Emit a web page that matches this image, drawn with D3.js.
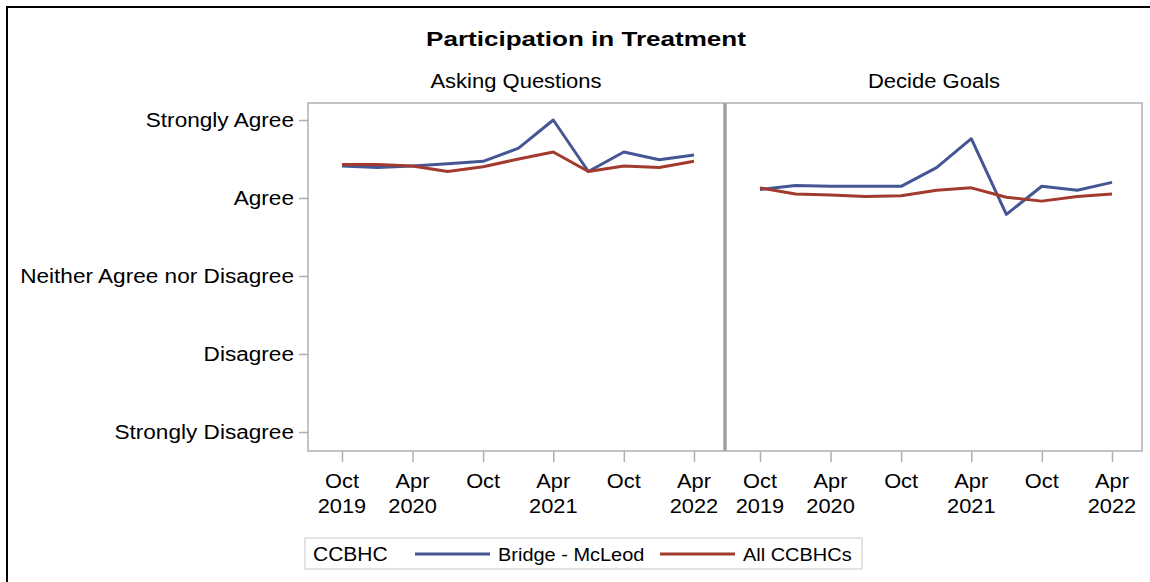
<!DOCTYPE html>
<html>
<head>
<meta charset="utf-8">
<script src="https://cdn.jsdelivr.net/npm/d3@7"></script>
<style>
  body { margin: 0; background: #fff; }
  text { font-family: "Liberation Sans", Arial, sans-serif; fill: #000; }
</style>
</head>
<body>
<script>

// data

var quarters = ['2019-10', '2020-01', '2020-04', '2020-07', '2020-10', '2021-01',
                '2021-04', '2021-07', '2021-10', '2022-01', '2022-04'];

var panelNames = ['Asking Questions', 'Decide Goals'];

// 1 = Strongly Disagree ... 5 = Strongly Agree
var bridgeAsking = [4.41, 4.39, 4.41, 4.44, 4.47, 4.64, 5.00, 4.34, 4.59, 4.49, 4.55];
var allAsking    = [4.43, 4.43, 4.41, 4.34, 4.40, 4.50, 4.59, 4.34, 4.41, 4.39, 4.47];
var bridgeGoals  = [4.11, 4.16, 4.15, 4.15, 4.15, 4.39, 4.76, 3.79, 4.15, 4.10, 4.20];
var allGoals     = [4.13, 4.05, 4.04, 4.02, 4.03, 4.10, 4.13, 4.01, 3.96, 4.02, 4.05];

var yLabels = ['Strongly Disagree', 'Disagree', 'Neither Agree nor Disagree', 'Agree', 'Strongly Agree'];
var yValues = [1, 2, 3, 4, 5];

var xTicks = ['2019-10', '2020-04', '2020-10', '2021-04', '2021-10', '2022-04'];
var xTickLabels = [['Oct', '2019'], ['Apr', '2020'], ['Oct', ''], ['Apr', '2021'], ['Oct', ''], ['Apr', '2022']];

var seriesNames = ['Bridge - McLeod', 'All CCBHCs'];
var seriesColors = ['#445694', '#a23a2e'];


// helpers

// the picture's lettering is a bit wider than Arial, so widen glyphs
function stretch(sel, k) {
    sel.each(function() {
        var w = this.getComputedTextLength();
        if (w > 0) {
            d3.select(this)
                .attr('textLength', w * k)
                .attr('lengthAdjust', 'spacingAndGlyphs');
        }
    });
}


// svg

var W = 1150, H = 582;
var parseQ = d3.timeParse('%Y-%m');

var svg = d3.select('body').append('svg')
    .attr('width', W)
    .attr('height', H);

svg.append('rect')
    .attr('width', W)
    .attr('height', H)
    .style('fill', '#fff');

// outer frame (only top and left show)
svg.append('rect')
    .attr('x', 7)
    .attr('y', 7)
    .attr('width', W + 20)
    .attr('height', H + 20)
    .style('fill', 'none')
    .style('stroke', '#000')
    .style('stroke-width', 2);

var panelTop = 103, panelBottom = 451, panelW = 416;
var panelX = [308, 726];

var x = d3.scaleTime()
    .domain([parseQ(quarters[0]), parseQ(quarters[quarters.length - 1])])
    .range([34, 386]);

var y = d3.scaleLinear()
    .domain([1, 5])
    .range([432, 120]);

var line = d3.line()
    .x(function(d) { return x(parseQ(d.q)); })
    .y(function(d) { return y(d.v); });

var panelData = [
    [bridgeAsking, allAsking],
    [bridgeGoals, allGoals]
];

// title
svg.append('text')
    .attr('x', 586)
    .attr('y', 46)
    .attr('text-anchor', 'middle')
    .style('font-size', '21px')
    .style('font-weight', 'bold')
    .text('Participation in Treatment')
    .call(stretch, 1.24);

// y axis
var yAxis = svg.append('g')
    .attr('transform', 'translate(' + panelX[0] + ',0)')
    .call(d3.axisLeft(y)
        .tickValues(yValues)
        .tickFormat(function(d, i) { return yLabels[i]; })
        .tickSize(9)
        .tickPadding(5));
yAxis.select('.domain').remove();
yAxis.selectAll('line').style('stroke', '#a9b1b5').style('stroke-width', 1.5);
yAxis.selectAll('text')
    .style('font-size', '20px')
    .style('font-family', '"Liberation Sans", Arial, sans-serif')
    .attr('fill', '#000')
    .call(stretch, 1.13);

panelNames.forEach(function(name, p) {
    var g = svg.append('g')
        .attr('transform', 'translate(' + panelX[p] + ',0)');

    // header
    g.append('text')
        .attr('x', panelW / 2)
        .attr('y', 88)
        .attr('text-anchor', 'middle')
        .style('font-size', '20px')
        .text(name)
        .call(stretch, 1.1);

    // x axis
    var xa = g.append('g')
        .attr('transform', 'translate(0,' + panelBottom + ')')
        .call(d3.axisBottom(x)
            .tickValues(xTicks.map(parseQ))
            .tickFormat('')
            .tickSize(11));
    xa.select('.domain').remove();
    xa.selectAll('line').style('stroke', '#a9b1b5').style('stroke-width', 1.5);

    xTicks.forEach(function(t, i) {
        xTickLabels[i].forEach(function(lab, j) {
            if (!lab) return;
            g.append('text')
                .attr('x', x(parseQ(t)))
                .attr('y', 488 + j * 25)
                .attr('text-anchor', 'middle')
                .style('font-size', '20px')
                .text(lab)
                .call(stretch, 1.09);
        });
    });

    // lines
    panelData[p].forEach(function(vals, s) {
        var pts = vals.map(function(v, i) { return {q: quarters[i], v: v}; });
        g.append('path')
            .datum(pts)
            .attr('d', line)
            .style('fill', 'none')
            .style('stroke', seriesColors[s])
            .style('stroke-width', 3)
            .style('stroke-linejoin', 'round');
    });

    // frame
    g.append('rect')
        .attr('x', 0)
        .attr('y', panelTop)
        .attr('width', panelW)
        .attr('height', panelBottom - panelTop)
        .style('fill', 'none')
        .style('stroke', '#a9b1b5')
        .style('stroke-width', 1.5);
});

// darker seam between the panels
svg.append('line')
    .attr('x1', 725)
    .attr('x2', 725)
    .attr('y1', panelTop)
    .attr('y2', panelBottom)
    .style('stroke', '#9aa1a5')
    .style('stroke-width', 2.5);


// legend
var legend = svg.append('g')
    .attr('transform', 'translate(305,538)');

legend.append('rect')
    .attr('width', 557)
    .attr('height', 31)
    .style('fill', '#fff')
    .style('stroke', '#d0d3d5')
    .style('stroke-width', 1.2);

legend.append('text')
    .attr('x', 8)
    .attr('y', 23)
    .style('font-size', '20px')
    .text('CCBHC')
    .call(stretch, 1.05);

var legendX = [110, 355];
seriesNames.forEach(function(name, s) {
    legend.append('line')
        .attr('x1', legendX[s])
        .attr('x2', legendX[s] + 75)
        .attr('y1', 16)
        .attr('y2', 16)
        .style('stroke', seriesColors[s])
        .style('stroke-width', 3);
    legend.append('text')
        .attr('x', legendX[s] + 83)
        .attr('y', 23)
        .style('font-size', '19px')
        .text(name)
        .call(stretch, 1.05);
});

</script>
</body>
</html>
